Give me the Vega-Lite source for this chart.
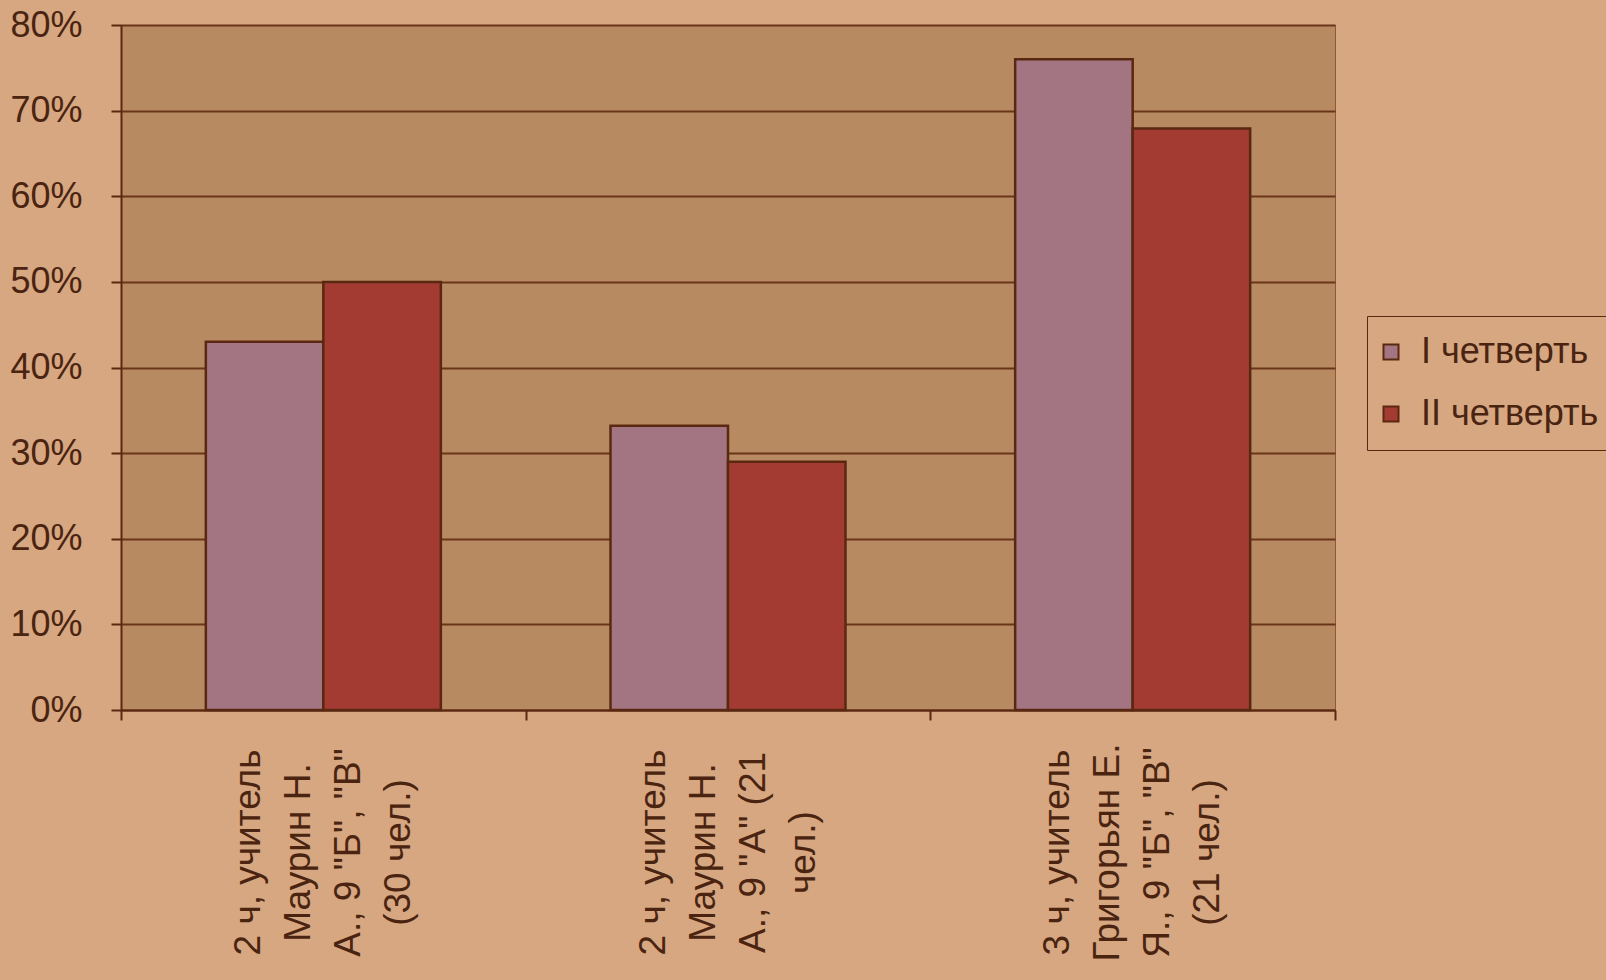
{
  "$schema": "https://vega.github.io/schema/vega-lite/v6.json",
  "autosize": "none",
  "width": 1214,
  "height": 685,
  "padding": {"left": 121, "top": 25, "right": 271, "bottom": 270},
  "background": "#D6A781",
  "data": {
    "values": [
      {"group": "2 ч, учитель|Маурин Н.|А., 9 \"Б\", \"В\"|(30 чел.)", "series": "I четверть", "value": 0.43},
      {"group": "2 ч, учитель|Маурин Н.|А., 9 \"Б\", \"В\"|(30 чел.)", "series": "II четверть", "value": 0.50},
      {"group": "2 ч, учитель|Маурин Н.|А., 9 \"А\" (21|чел.)", "series": "I четверть", "value": 0.332},
      {"group": "2 ч, учитель|Маурин Н.|А., 9 \"А\" (21|чел.)", "series": "II четверть", "value": 0.29},
      {"group": "3 ч, учитель|Григорьян Е.|Я., 9 \"Б\", \"В\"|(21 чел.)", "series": "I четверть", "value": 0.76},
      {"group": "3 ч, учитель|Григорьян Е.|Я., 9 \"Б\", \"В\"|(21 чел.)", "series": "II четверть", "value": 0.679}
    ]
  },
  "mark": {"type": "bar", "stroke": "#5A2810", "strokeWidth": 2.5},
  "encoding": {
    "x": {
      "field": "group",
      "type": "nominal",
      "sort": null,
      "scale": {"paddingInner": 0, "paddingOuter": 0},
      "axis": {
        "title": null,
        "labelExpr": "split(datum.label, '|')",
        "labelAngle": -90,
        "labelAlign": "center",
        "labelBaseline": "middle",
        "labelPadding": 132,
        "labelOffset": -75,
        "labelFont": "Liberation Sans",
        "labelFontSize": 37,
        "labelLineHeight": 50,
        "labelColor": "#4A2410",
        "labelLimit": 0,
        "labelOverlap": false,
        "tickBand": "extent",
        "tickSize": 10,
        "tickColor": "#5A2810",
        "tickWidth": 2,
        "domainColor": "#5A2810",
        "domainWidth": 2
      }
    },
    "xOffset": {"field": "series", "type": "nominal", "scale": {"paddingInner": 0, "paddingOuter": 0.722}},
    "y": {
      "field": "value",
      "type": "quantitative",
      "scale": {"domain": [0, 0.8], "nice": false},
      "axis": {
        "title": null,
        "format": ".0%",
        "values": [0, 0.1, 0.2, 0.3, 0.4, 0.5, 0.6, 0.7, 0.8],
        "labelFont": "Liberation Sans",
        "labelFontSize": 36,
        "labelColor": "#4A2410",
        "labelPadding": 29,
        "tickSize": 10,
        "tickColor": "#5A2810",
        "tickWidth": 2,
        "domainColor": "#5A2810",
        "domainWidth": 2,
        "grid": true,
        "gridColor": "#6A3518",
        "gridWidth": 2
      }
    },
    "color": {
      "field": "series",
      "type": "nominal",
      "scale": {"domain": ["I четверть", "II четверть"], "range": ["#A37482", "#A33B33"]},
      "legend": {
        "title": null,
        "orient": "none",
        "legendX": 1246,
        "legendY": 291,
        "symbolType": "square",
        "symbolSize": 225,
        "symbolOffset": -12,
        "symbolStrokeColor": "#5A2810",
        "symbolStrokeWidth": 2,
        "labelFont": "Liberation Sans",
        "labelFontSize": 36,
        "labelColor": "#4A2410",
        "labelOffset": 12,
        "labelLimit": 0,
        "rowPadding": 26,
        "padding": 18,
        "strokeColor": "#5A2810",
        "fillColor": "#D6A781"
      }
    }
  },
  "config": {
    "view": {"fill": "#B88A62", "stroke": "#8A5A3A", "strokeWidth": 1}
  }
}
